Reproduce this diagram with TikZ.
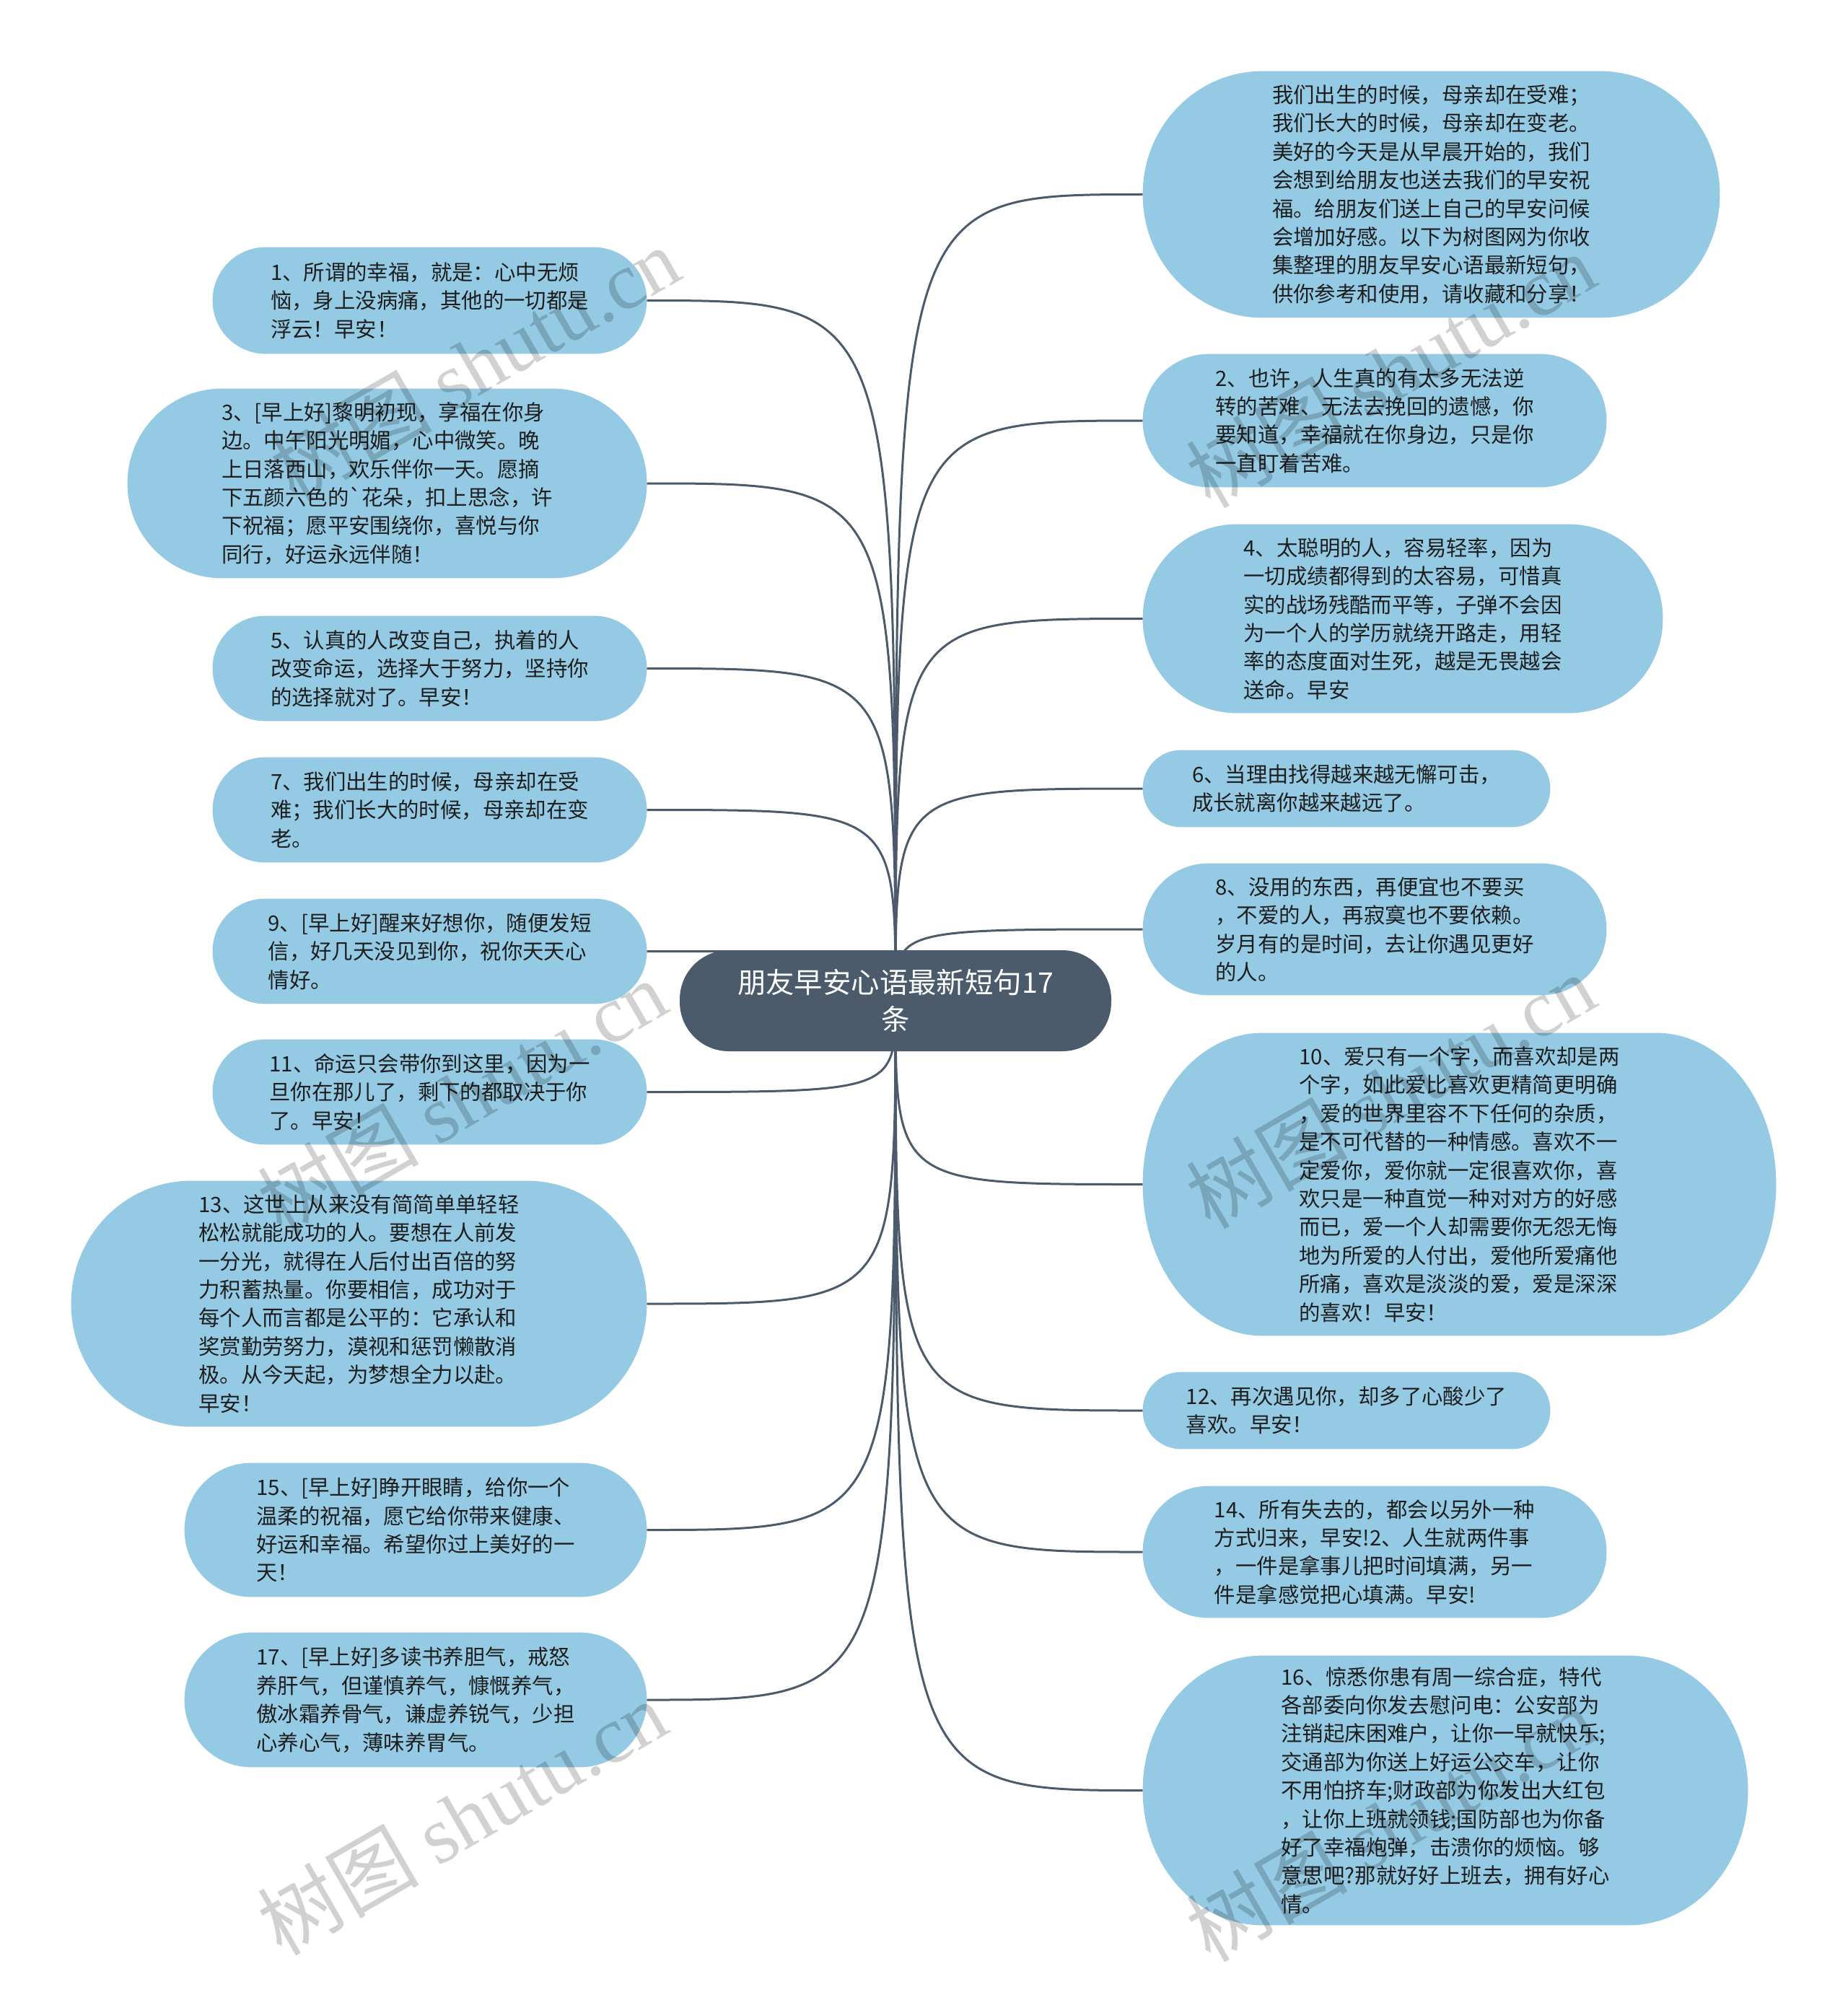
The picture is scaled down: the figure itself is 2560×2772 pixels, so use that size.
\documentclass[tikz,border=0pt]{standalone}
\usepackage{fontspec}
\setmainfont{Noto Sans CJK SC}
\newfontfamily\wmserif{Liberation Serif}
\newfontfamily\wmcjk{Noto Sans CJK SC}
\usetikzlibrary{calc,backgrounds}
\definecolor{bubcol}{HTML}{94CAE3}
\definecolor{rootcol}{HTML}{4B5B6B}
\definecolor{txtcol}{HTML}{1E1E1E}
\newcommand\bubfill[3]{%
  \fill[bubcol] ($(#1.north west)+(#2,0pt)$) -- ($(#1.north east)+(-#2,0pt)$)
    arc[start angle=90,end angle=0,x radius=#2,y radius=#3]
    -- ($(#1.south east)+(0pt,#3)$)
    arc[start angle=0,end angle=-90,x radius=#2,y radius=#3]
    -- ($(#1.south west)+(#2,0pt)$)
    arc[start angle=270,end angle=180,x radius=#2,y radius=#3]
    -- ($(#1.north west)+(0pt,-#3)$)
    arc[start angle=180,end angle=90,x radius=#2,y radius=#3] -- cycle;}
\tikzset{
  bub/.style 2 args={inner sep=0pt, text=txtcol, align=left,
    minimum width=#1pt, minimum height=#2pt,
    font=\fontsize{14.7pt}{19.7pt}\selectfont},
  rootbox/.style={fill=rootcol, text=white, align=center, inner sep=0pt,
    rounded corners=34pt, minimum width=299pt, minimum height=70pt,
    font=\fontsize{19.7pt}{25.6pt}\selectfont},
  conn/.style={draw=rootcol, line width=1.5pt},
  wm/.style={rotate=30, text=black, opacity=0.18, inner sep=0pt,
    font=\fontsize{56pt}{60pt}\selectfont}
}
\begin{document}
\begin{tikzpicture}[x=0.5pt,y=-0.5pt]
\useasboundingbox (0,0) rectangle (2560,2772);
% root
\node[rootbox] (root) at (1241,1387) {朋友早安心语最新短句17\\条};
% left nodes
\node[bub={300.5}{73.5}] (n1) at (595.5,416.5) {1、所谓的幸福，就是：心中无烦\\恼，身上没病痛，其他的一切都是\\浮云！早安！};
\node[bub={359.5}{131}] (n3) at (536.5,670) {3、[早上好]黎明初现，享福在你身\\边。中午阳光明媚，心中微笑。晚\\上日落西山，欢乐伴你一天。愿摘\\下五颜六色的{\wmcjk`}花朵，扣上思念，许\\下祝福；愿平安围绕你，喜悦与你\\同行，好运永远伴随！};
\node[bub={300.5}{72.5}] (n5) at (595.5,926.5) {5、认真的人改变自己，执着的人\\改变命运，选择大于努力，坚持你\\的选择就对了。早安！};
\node[bub={300.5}{72.5}] (n7) at (595.5,1122.5) {7、我们出生的时候，母亲却在受\\难；我们长大的时候，母亲却在变\\老。};
\node[bub={300.5}{72.5}] (n9) at (595.5,1318.5) {9、[早上好]醒来好想你，随便发短\\信，好几天没见到你，祝你天天心\\情好。};
\node[bub={300.5}{72.5}] (n11) at (595.5,1513.5) {11、命运只会带你到这里，因为一\\旦你在那儿了，剩下的都取决于你\\了。早安！};
\node[bub={398.5}{170}] (n13) at (497.5,1807) {13、这世上从来没有简简单单轻轻\\松松就能成功的人。要想在人前发\\一分光，就得在人后付出百倍的努\\力积蓄热量。你要相信，成功对于\\每个人而言都是公平的：它承认和\\奖赏勤劳努力，漠视和惩罚懒散消\\极。从今天起，为梦想全力以赴。\\早安！};
\node[bub={320}{92.5}] (n15) at (576,2120.5) {15、[早上好]睁开眼睛，给你一个\\温柔的祝福，愿它给你带来健康、\\好运和幸福。希望你过上美好的一\\天！};
\node[bub={320}{93}] (n17) at (576,2356) {17、[早上好]多读书养胆气，戒怒\\养肝气，但谨慎养气，慷慨养气，\\傲冰霜养骨气，谦虚养锐气，少担\\心养心气，薄味养胃气。};
% right nodes
\node[bub={399.5}{170.5}] (nt) at (1983.5,269.5) {我们出生的时候，母亲却在受难；\\我们长大的时候，母亲却在变老。\\美好的今天是从早晨开始的，我们\\会想到给朋友也送去我们的早安祝\\福。给朋友们送上自己的早安问候\\会增加好感。以下为树图网为你收\\集整理的朋友早安心语最新短句，\\供你参考和使用，请收藏和分享！};
\node[bub={321}{92}] (n2) at (1905,583) {2、也许，人生真的有太多无法逆\\转的苦难、无法去挽回的遗憾，你\\要知道，幸福就在你身边，只是你\\一直盯着苦难。};
\node[bub={360}{130.5}] (n4) at (1944,857.5) {4、太聪明的人，容易轻率，因为\\一切成绩都得到的太容易，可惜真\\实的战场残酷而平等，子弹不会因\\为一个人的学历就绕开路走，用轻\\率的态度面对生死，越是无畏越会\\送命。早安};
\node[bub={282}{53}] (n6) at (1866,1093) {6、当理由找得越来越无懈可击，\\成长就离你越来越远了。};
\node[bub={321}{91}] (n8) at (1905,1288) {8、没用的东西，再便宜也不要买\\，不爱的人，再寂寞也不要依赖。\\岁月有的是时间，去让你遇见更好\\的人。};
\node[bub={438.5}{209.5}] (n10) at (2022.5,1641.5) {10、爱只有一个字，而喜欢却是两\\个字，如此爱比喜欢更精简更明确\\，爱的世界里容不下任何的杂质，\\是不可代替的一种情感。喜欢不一\\定爱你，爱你就一定很喜欢你，喜\\欢只是一种直觉一种对对方的好感\\而已，爱一个人却需要你无怨无悔\\地为所爱的人付出，爱他所爱痛他\\所痛，喜欢是淡淡的爱，爱是深深\\的喜欢！早安！};
\node[bub={282}{53}] (n12) at (1866,1955) {12、再次遇见你，却多了心酸少了\\喜欢。早安！};
\node[bub={321}{91}] (n14) at (1905,2151) {14、所有失去的，都会以另外一种\\方式归来，早安!2、人生就两件事\\，一件是拿事儿把时间填满，另一\\件是拿感觉把心填满。早安!};
\node[bub={419}{186.5}] (n16) at (2003,2481.5) {16、惊悉你患有周一综合症，特代\\各部委向你发去慰问电：公安部为\\注销起床困难户，让你一早就快乐;\\交通部为你送上好运公交车，让你\\不用怕挤车;财政部为你发出大红包\\，让你上班就领钱;国防部也为你备\\好了幸福炮弹，击溃你的烦恼。够\\意思吧?那就好好上班去，拥有好心\\情。};
\begin{pgfonlayer}{background}
  \foreach \n in {n1,n3,n5,n7,n9,n11,n13,n15,n17}
    \draw[conn] (root.center) .. controls (root.center |- \n.east) .. (\n.east);
  \foreach \n in {nt,n2,n4,n6,n8,n10,n12,n14,n16}
    \draw[conn] (root.center) .. controls (root.center |- \n.west) .. (\n.west);
  \bubfill{n1}{36.75pt}{36.75pt}
  \bubfill{n3}{65.5pt}{65.5pt}
  \bubfill{n5}{36.25pt}{36.25pt}
  \bubfill{n7}{36.25pt}{36.25pt}
  \bubfill{n9}{36.25pt}{36.25pt}
  \bubfill{n11}{36.25pt}{36.25pt}
  \bubfill{n13}{83pt}{85pt}
  \bubfill{n15}{46.25pt}{46.25pt}
  \bubfill{n17}{46.5pt}{46.5pt}
  \bubfill{nt}{83pt}{85.25pt}
  \bubfill{n2}{46pt}{46pt}
  \bubfill{n4}{65.25pt}{65.25pt}
  \bubfill{n6}{26.5pt}{26.5pt}
  \bubfill{n8}{45.5pt}{45.5pt}
  \bubfill{n10}{83pt}{104.75pt}
  \bubfill{n12}{26.5pt}{26.5pt}
  \bubfill{n14}{45.5pt}{45.5pt}
  \bubfill{n16}{83pt}{93.25pt}
\end{pgfonlayer}
% watermarks
\node[wm] (w1) at (658,504) {\wmcjk 树图 \wmserif shutu.cn};
\node[wm] (w2) at (1927,513) {\wmcjk 树图 \wmserif shutu.cn};
\node[wm] (w3) at (640,1520) {\wmcjk 树图 \wmserif shutu.cn};
\node[wm] (w4) at (1927,1512) {\wmcjk 树图 \wmserif shutu.cn};
\node[wm] (w5) at (640,2519) {\wmcjk 树图 \wmserif shutu.cn};
\node[wm] (w6) at (1927,2528) {\wmcjk 树图 \wmserif shutu.cn};
\end{tikzpicture}
\end{document}
